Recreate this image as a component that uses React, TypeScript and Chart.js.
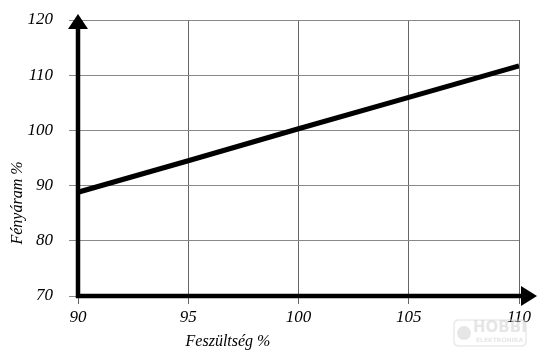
import React, { useEffect, useRef } from "react";
import { Chart, registerables } from "chart.js";

Chart.register(...registerables);

const voltage = [90, 95, 100, 105, 110];
const luminous = [88.8, 94.5, 100.3, 106.0, 111.7];
const xTicks = [90, 95, 100, 105, 110];
const yTicks = [70, 80, 90, 100, 110, 120];
const xTitle = "Feszültség %";
const yTitle = "Fényáram %";

const FONT = "'Liberation Serif', 'DejaVu Serif', serif";

const axesPlugin = {
  id: "arrowAxes",
  afterDatasetsDraw(chart: any) {
    const ctx = chart.ctx;
    const xs = chart.scales.x;
    const ys = chart.scales.y;
    const x0 = xs.getPixelForValue(90);
    const y0 = ys.getPixelForValue(70);
    const yTop = ys.getPixelForValue(120);
    const xRight = xs.getPixelForValue(110);
    ctx.save();
    ctx.fillStyle = "#000";
    ctx.strokeStyle = "#000";
    ctx.lineWidth = 4.5;
    ctx.beginPath();
    ctx.moveTo(x0, y0 + 2);
    ctx.lineTo(x0, yTop + 6);
    ctx.stroke();
    ctx.beginPath();
    ctx.moveTo(x0 - 2, y0);
    ctx.lineTo(xRight + 4, y0);
    ctx.stroke();
    // up arrow
    ctx.beginPath();
    ctx.moveTo(x0, yTop - 6);
    ctx.lineTo(x0 - 10, yTop + 9);
    ctx.lineTo(x0 + 10, yTop + 9);
    ctx.closePath();
    ctx.fill();
    // right arrow
    ctx.beginPath();
    ctx.moveTo(xRight + 18, y0);
    ctx.lineTo(xRight + 2, y0 - 10);
    ctx.lineTo(xRight + 2, y0 + 10);
    ctx.closePath();
    ctx.fill();

    // tick labels
    ctx.fillStyle = "#000";
    ctx.font = `italic 17px ${FONT}`;
    ctx.textBaseline = "middle";
    ctx.textAlign = "right";
    yTicks.forEach((v) => ctx.fillText(String(v), 53, ys.getPixelForValue(v)));
    ctx.textAlign = "center";
    xTicks.forEach((v) => ctx.fillText(String(v), xs.getPixelForValue(v), 318));

    // axis titles
    ctx.font = `italic 16px ${FONT}`;
    ctx.fillText(xTitle, 228, 342);
    ctx.save();
    ctx.translate(18, 203);
    ctx.rotate(-Math.PI / 2);
    ctx.fillText(yTitle, 0, 0);
    ctx.restore();

    // watermark
    ctx.globalAlpha = 0.45;
    ctx.strokeStyle = "#cfcfcf";
    ctx.fillStyle = "#c8c8c8";
    ctx.lineWidth = 1.5;
    const rx = 454, ry = 320, rw = 72, rh = 26, r = 5;
    ctx.beginPath();
    ctx.moveTo(rx + r, ry);
    ctx.lineTo(rx + rw - r, ry);
    ctx.quadraticCurveTo(rx + rw, ry, rx + rw, ry + r);
    ctx.lineTo(rx + rw, ry + rh - r);
    ctx.quadraticCurveTo(rx + rw, ry + rh, rx + rw - r, ry + rh);
    ctx.lineTo(rx + r, ry + rh);
    ctx.quadraticCurveTo(rx, ry + rh, rx, ry + rh - r);
    ctx.lineTo(rx, ry + r);
    ctx.quadraticCurveTo(rx, ry, rx + r, ry);
    ctx.stroke();
    ctx.beginPath();
    ctx.arc(464, 333, 7, 0, Math.PI * 2);
    ctx.fill();
    ctx.font = "bold 15px 'DejaVu Sans', sans-serif";
    ctx.textAlign = "left";
    ctx.fillText("HOBBI", 473, 328);
    ctx.font = "bold 6px 'DejaVu Sans', sans-serif";
    ctx.fillText("ELEKTRONIKA", 476, 340);
    ctx.restore();
  },
};

export default function App() {
  const ref = useRef<HTMLCanvasElement>(null);
  useEffect(() => {
    document.body.style.margin = "0";
    const chart = new Chart(ref.current as HTMLCanvasElement, {
      type: "line",
      data: {
        datasets: [
          {
            data: voltage.map((v, i) => ({ x: v, y: luminous[i] })),
            borderColor: "#000",
            borderWidth: 5,
            pointRadius: 0,
            tension: 0,
            fill: false,
          },
        ],
      },
      options: {
        animation: false,
        responsive: false,
        maintainAspectRatio: false,
        layout: { padding: { top: 20, right: 21, left: 0, bottom: 0 } },
        plugins: { legend: { display: false }, tooltip: { enabled: false } },
        scales: {
          x: {
            type: "linear",
            min: 90,
            max: 110,
            afterBuildTicks: (s: any) => {
              s.ticks = xTicks.map((v) => ({ value: v }));
            },
            afterFit: (s: any) => {
              s.height = 63;
            },
            border: { display: false },
            grid: { color: "#666", lineWidth: 1, tickLength: 8, drawTicks: true },
            ticks: { display: false },
          },
          y: {
            type: "linear",
            min: 70,
            max: 120,
            afterBuildTicks: (s: any) => {
              s.ticks = yTicks.map((v) => ({ value: v }));
            },
            afterFit: (s: any) => {
              s.width = 78;
            },
            border: { display: false },
            grid: { color: "#888", lineWidth: 1, tickLength: 9, drawTicks: true },
            ticks: { display: false },
          },
        },
      },
      plugins: [axesPlugin],
    } as any);
    return () => chart.destroy();
  }, []);
  return (
    <div style={{ width: 540, height: 359 }}>
      <canvas ref={ref} width={540} height={359} />
    </div>
  );
}
